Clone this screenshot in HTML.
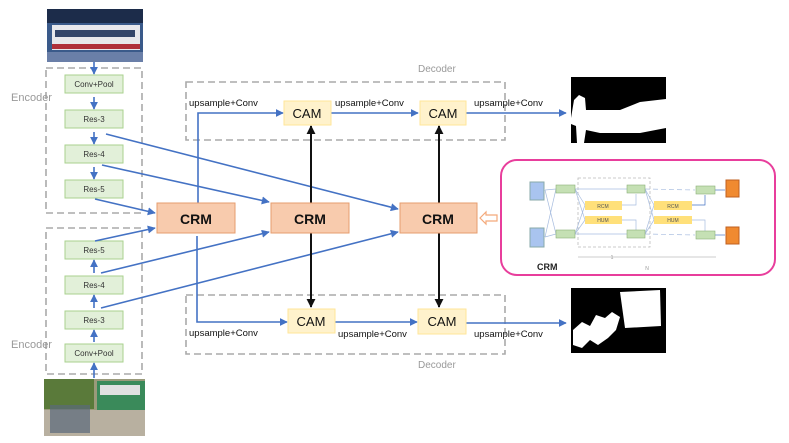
<!DOCTYPE html>
<html><head><meta charset="utf-8"><style>
body{margin:0;background:#fff}
svg{display:block;font-family:"Liberation Sans",sans-serif}
</style></head><body>
<svg width="789" height="443" viewBox="0 0 789 443" xmlns="http://www.w3.org/2000/svg">
<defs>
<marker id="ab" viewBox="0 0 10 10" refX="9" refY="5" markerWidth="5" markerHeight="5" orient="auto"><path d="M0,0L10,5L0,10z" fill="#4472c4"/></marker>
<marker id="ak" viewBox="0 0 10 10" refX="9" refY="5" markerWidth="4.5" markerHeight="4.5" orient="auto"><path d="M0,0L10,5L0,10z" fill="#111"/></marker>
</defs>
<!-- images -->
<rect x="47" y="9" width="96" height="53" fill="#3a5a8a"/>
<rect x="47" y="9" width="96" height="14" fill="#1c2c4a"/>
<rect x="52" y="25" width="88" height="25" fill="#e8e8ec"/>
<rect x="55" y="30" width="80" height="7" fill="#34466a"/>
<rect x="52" y="44" width="88" height="5" fill="#b0303a"/>
<rect x="47" y="52" width="96" height="10" fill="#6a7fa8"/>
<rect x="44" y="379" width="101" height="57" fill="#9a9a7a"/>
<rect x="44" y="379" width="50" height="30" fill="#5a7a3a"/>
<rect x="97" y="381" width="48" height="32" fill="#3a8a5a"/>
<rect x="100" y="385" width="40" height="10" fill="#e0e0e0"/>
<rect x="44" y="410" width="101" height="26" fill="#b8b0a0"/>
<rect x="50" y="405" width="40" height="28" fill="#5a6a7a" opacity=".7"/>
<!-- masks -->
<rect x="571" y="77" width="95" height="66" fill="#000"/>
<path d="M571,118 L574,100 L579,95 L585,98 L586,110 L620,110 L640,102 L666,99 L666,128 L640,133 L600,133 L586,130 L584,143 L577,143 L576,126 L571,124z" fill="#fff"/>
<rect x="571" y="288" width="95" height="65" fill="#000"/>
<path d="M620,292 L660,290 L661,326 L625,328z" fill="#fff"/>
<path d="M573,330 L582,322 L590,326 L596,315 L605,318 L612,312 L620,317 L616,330 L608,338 L598,345 L590,340 L582,348 L573,345z" fill="#fff"/>
<!-- dashed boxes -->
<g fill="none" stroke="#aaa" stroke-width="1.6" stroke-dasharray="7,4">
<rect x="46" y="68" width="96" height="145"/>
<rect x="46" y="228" width="96" height="146"/>
<rect x="186" y="82" width="319" height="58"/>
<rect x="186" y="295" width="319" height="59"/>
</g>
<g font-size="11" fill="#999">
<text x="11" y="101">Encoder</text>
<text x="11" y="348">Encoder</text>
<text x="418" y="72" font-size="10">Decoder</text>
<text x="418" y="368" font-size="10">Decoder</text>
</g>
<g fill="#e2f0d9" stroke="#a9d18e">
<rect x="65" y="75" width="58" height="18"/>
<rect x="65" y="110" width="58" height="18"/>
<rect x="65" y="145" width="58" height="18"/>
<rect x="65" y="180" width="58" height="18"/>
<rect x="65" y="241" width="58" height="18"/>
<rect x="65" y="276" width="58" height="18"/>
<rect x="65" y="311" width="58" height="18"/>
<rect x="65" y="344" width="58" height="18"/>
</g>
<g font-size="8" fill="#333" text-anchor="middle">
<text x="94" y="87">Conv+Pool</text>
<text x="94" y="122">Res-3</text>
<text x="94" y="157">Res-4</text>
<text x="94" y="192">Res-5</text>
<text x="94" y="253">Res-5</text>
<text x="94" y="288">Res-4</text>
<text x="94" y="323">Res-3</text>
<text x="94" y="356">Conv+Pool</text>
</g>
<!-- blue arrows -->
<g stroke="#4472c4" stroke-width="1.6" fill="none" marker-end="url(#ab)">
<line x1="94" y1="62" x2="94" y2="74"/>
<line x1="94" y1="97" x2="94" y2="109"/>
<line x1="94" y1="132" x2="94" y2="144"/>
<line x1="94" y1="167" x2="94" y2="179"/>
<line x1="94" y1="378" x2="94" y2="363"/>
<line x1="94" y1="342" x2="94" y2="330"/>
<line x1="94" y1="308" x2="94" y2="295"/>
<line x1="94" y1="273" x2="94" y2="260"/>
<line x1="106" y1="134" x2="398" y2="209"/>
<line x1="102" y1="165" x2="269" y2="202"/>
<line x1="95" y1="199" x2="155" y2="213"/>
<line x1="95" y1="241" x2="155" y2="228"/>
<line x1="101" y1="273" x2="269" y2="232"/>
<line x1="101" y1="308" x2="398" y2="232"/>
<polyline points="198,203 198,113 283,113"/>
<polyline points="197,236 197,322 287,322"/>
<line x1="331" y1="113" x2="418" y2="113"/>
<line x1="335" y1="322" x2="417" y2="322"/>
<line x1="466" y1="113" x2="566" y2="113"/>
<line x1="466" y1="323" x2="566" y2="323"/>
</g>
<!-- black arrows -->
<g stroke="#111" stroke-width="2" marker-end="url(#ak)">
<line x1="311" y1="203" x2="311" y2="126"/>
<line x1="311" y1="233" x2="311" y2="307"/>
<line x1="439" y1="203" x2="439" y2="126"/>
<line x1="439" y1="233" x2="439" y2="307"/>
</g>
<!-- CRM -->
<g fill="#f8cbad" stroke="#e69c6e">
<rect x="157" y="203" width="78" height="30"/>
<rect x="271" y="203" width="78" height="30"/>
<rect x="400" y="203" width="77" height="30"/>
</g>
<g font-size="14" font-weight="bold" fill="#111" text-anchor="middle">
<text x="196" y="224">CRM</text><text x="310" y="224">CRM</text><text x="438" y="224">CRM</text>
</g>
<!-- CAM -->
<g fill="#fff2cc" stroke="#ffe699">
<rect x="284" y="101" width="47" height="24"/>
<rect x="420" y="101" width="46" height="24"/>
<rect x="288" y="309" width="47" height="24"/>
<rect x="418" y="309" width="48" height="25"/>
</g>
<g font-size="13" fill="#111" text-anchor="middle">
<text x="307" y="118">CAM</text><text x="443" y="118">CAM</text>
<text x="311" y="326">CAM</text><text x="442" y="326">CAM</text>
</g>
<g font-size="9.5" fill="#111">
<text x="189" y="106">upsample+Conv</text>
<text x="335" y="106">upsample+Conv</text>
<text x="474" y="106">upsample+Conv</text>
<text x="189" y="336">upsample+Conv</text>
<text x="338" y="337">upsample+Conv</text>
<text x="474" y="337">upsample+Conv</text>
</g>
<!-- hollow arrow -->
<path d="M480,218 L486,212 L486,215 L497,215 L497,221 L486,221 L486,224z" fill="#fff" stroke="#f4a97a" stroke-width="1.2"/>
<!-- CRM detail -->
<rect x="501" y="160" width="274" height="115" rx="16" fill="#fff" stroke="#e83e9c" stroke-width="2"/>
<rect x="578" y="178" width="72" height="69" fill="none" stroke="#bbb" stroke-width=".8" stroke-dasharray="3,2"/>
<g stroke="#a8bde0" stroke-width=".7" fill="none">
<line x1="545" y1="190" x2="556" y2="189"/><line x1="545" y1="237" x2="556" y2="234"/>
<line x1="545" y1="190" x2="556" y2="234"/><line x1="545" y1="237" x2="556" y2="189"/>
<line x1="575" y1="189" x2="627" y2="189"/><line x1="575" y1="234" x2="627" y2="234"/>
<line x1="575" y1="189" x2="585" y2="205"/><line x1="575" y1="189" x2="585" y2="220"/>
<line x1="575" y1="234" x2="585" y2="205"/><line x1="575" y1="234" x2="585" y2="220"/>
<line x1="645" y1="189" x2="654" y2="205"/><line x1="645" y1="189" x2="654" y2="220"/>
<line x1="645" y1="234" x2="654" y2="205"/><line x1="645" y1="234" x2="654" y2="220"/>
<line x1="645" y1="189" x2="695" y2="190" stroke-dasharray="5,3"/>
<line x1="645" y1="234" x2="695" y2="235" stroke-dasharray="5,3"/>
<polyline points="622,205 636,205 636,194"/><polyline points="622,220 636,220 636,230"/>
<polyline points="692,205 705,205 705,195" stroke="#4472c4"/><polyline points="692,220 705,220 705,231"/>
<line x1="715" y1="190" x2="725" y2="190" stroke="#4472c4"/><line x1="715" y1="235" x2="725" y2="235" stroke="#4472c4"/>
<line x1="578" y1="257" x2="716" y2="257" stroke="#bbb"/>
</g>
<g fill="#a9c4ef" stroke="#8aa"><rect x="530" y="182" width="14" height="18"/><rect x="530" y="228" width="14" height="19"/></g>
<g fill="#f08a30" stroke="#c06020"><rect x="726" y="180" width="13" height="17"/><rect x="726" y="227" width="13" height="17"/></g>
<g fill="#c5e0b4" stroke="#8ab07a" stroke-width=".6">
<rect x="556" y="185" width="19" height="8"/><rect x="556" y="230" width="19" height="8"/>
<rect x="627" y="185" width="18" height="8"/><rect x="627" y="230" width="18" height="8"/>
<rect x="696" y="186" width="19" height="8"/><rect x="696" y="231" width="19" height="8"/>
</g>
<g fill="#ffe07a"><rect x="585" y="201" width="37" height="9"/><rect x="585" y="216" width="37" height="8"/>
<rect x="654" y="201" width="38" height="9"/><rect x="654" y="216" width="38" height="8"/></g>
<g font-size="5" fill="#555" text-anchor="middle">
<text x="603" y="208">RCM</text><text x="603" y="222">HUM</text>
<text x="673" y="208">RCM</text><text x="673" y="222">HUM</text>
<text x="612" y="259" fill="#999">1</text><text x="647" y="270" fill="#999">N</text>
</g>
<text x="537" y="270" font-size="9" font-weight="bold" fill="#222">CRM</text>
</svg>
</body></html>
